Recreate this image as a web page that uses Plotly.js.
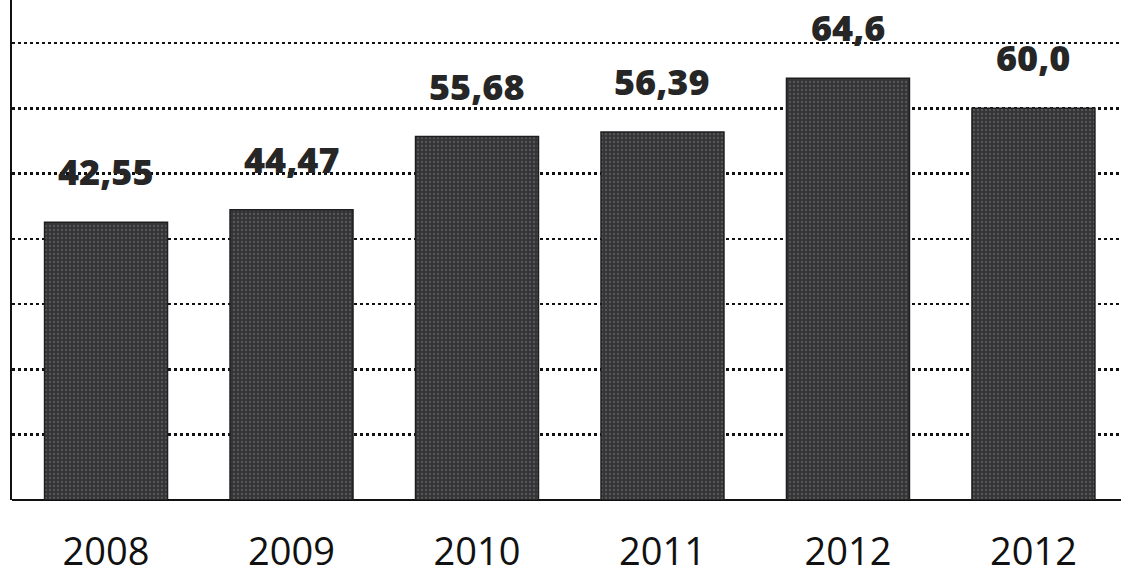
<!DOCTYPE html>
<html>
<head>
<meta charset="utf-8">
<script src="https://cdn.plot.ly/plotly-3.0.1.min.js"></script>
<style>
  html, body { margin: 0; padding: 0; background: #ffffff; }
  #chart { width: 1121px; height: 575px; }
</style>
</head>
<body>
<div id="chart"></div>
<script>
// Yearly values shown as bars; the last year label repeats in the source table.
const yearLabels = ['2008', '2009', '2010', '2011', '2012', '2012'];
const values = [42.55, 44.47, 55.68, 56.39, 64.6, 60.0];
const valueLabels = ['42,55', '44,47', '55,68', '56,39', '64,6', '60,0'];

// Bars sit at integer positions so that repeated year labels stay separate.
const positions = yearLabels.map((_, i) => i);

const barTrace = {
  type: 'bar',
  x: positions,
  y: values,
  marker: {
    color: '#3a3a3c',
    line: { color: '#1e1e1e', width: 1.5 },
    pattern: { shape: '.', fgcolor: '#58585a', bgcolor: '#353537', size: 4, solidity: 0.25 }
  },
  hoverinfo: 'skip'
};

const annotations = positions.map((p, i) => ({
  x: p,
  y: values[i],
  xref: 'x',
  yref: 'y',
  text: valueLabels[i],
  showarrow: false,
  yanchor: 'bottom',
  yshift: 24,
  font: { family: 'Open Sans, sans-serif', size: 36, color: '#262626', weight: 800 }
}));

const layout = {
  width: 1121,
  height: 575,
  margin: { l: 12, r: 0, t: 0, b: 75, pad: 0 },
  paper_bgcolor: '#ffffff',
  plot_bgcolor: '#ffffff',
  showlegend: false,
  bargap: 0.337,
  xaxis: {
    range: [-0.507, 5.472],
    tickmode: 'array',
    tickvals: positions,
    ticktext: yearLabels,
    ticks: '',
    showgrid: false,
    zeroline: false,
    showline: false,
    ticklabelstandoff: 26,
    tickfont: { family: 'Open Sans, sans-serif', size: 38, color: '#111111' },
    fixedrange: true
  },
  yaxis: {
    range: [0, 76.6],
    dtick: 10,
    tick0: 0,
    showticklabels: false,
    ticks: '',
    showgrid: true,
    gridcolor: '#111111',
    gridwidth: 2.5,
    griddash: 'dot',
    zeroline: true,
    zerolinecolor: '#111111',
    zerolinewidth: 2.5,
    showline: true,
    linecolor: '#111111',
    linewidth: 2.5,
    fixedrange: true
  },
  annotations: annotations
};

Plotly.newPlot('chart', [barTrace], layout, { displayModeBar: false, staticPlot: true });
</script>
</body>
</html>
